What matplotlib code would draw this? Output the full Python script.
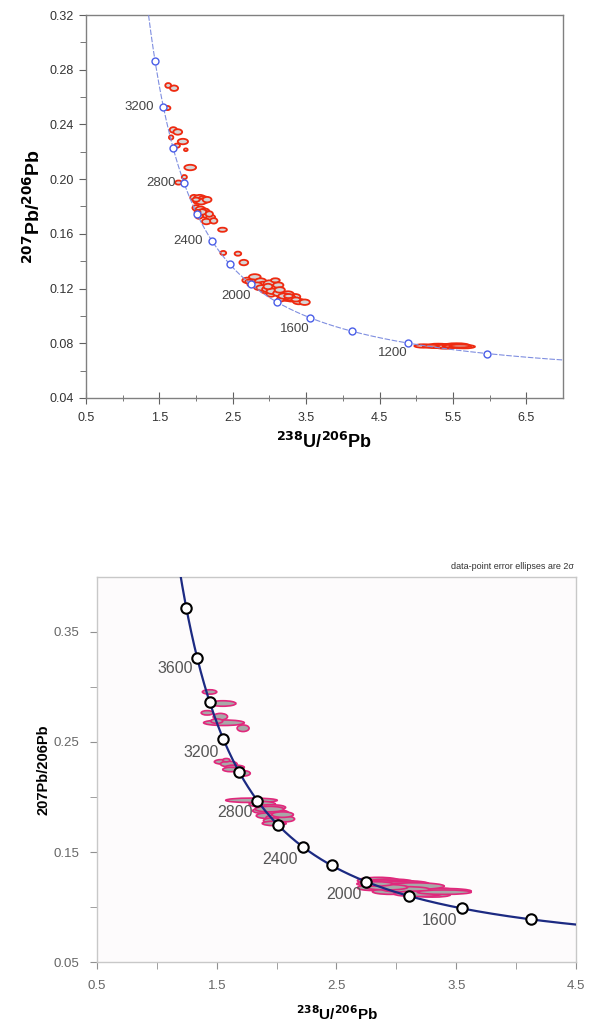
import numpy as np
import matplotlib
matplotlib.use("Agg")
import matplotlib.pyplot as plt
from matplotlib.patches import Ellipse
from matplotlib.ticker import MultipleLocator, FixedLocator

plt.rcParams['font.family'] = ['Liberation Sans', 'DejaVu Sans']

# ---- decay constants (Tera-Wasserburg concordia) ----
L238 = 1.55125e-10
L235 = 9.8485e-10
U_RATIO = 137.88

def tw(age_ma):
    a = np.asarray(age_ma, dtype=float) * 1e6
    e8 = np.exp(L238 * a) - 1
    e5 = np.exp(L235 * a) - 1
    return 1 / e8, e5 / e8 / U_RATIO

# ---- top panel data ----
top_marker_ages = [1000, 1200, 1400, 1600, 1800, 2000, 2200, 2400, 2600, 2800, 3000, 3200, 3400]
top_label_ages = ['3200', '2800', '2400', '2000', '1600', '1200']
top_label_x = [1.23, 1.52, 1.89, 2.54, 3.35, 4.68]
top_label_y = [0.2527, 0.1972, 0.1548, 0.1146, 0.0905, 0.0729]

top_ell_x = [1.62, 1.70, 1.61, 1.69, 1.75, 1.66, 1.82, 1.74, 1.86, 1.92, 1.84, 1.76,
             1.97, 2.05, 2.10, 2.02, 2.12, 2.07, 2.15, 2.00,
             2.00, 2.06, 2.12, 2.09, 2.15, 2.04, 2.20, 2.14, 2.24, 2.36, 2.08, 2.18, 2.02,
             2.37, 2.57, 2.65,
             2.70, 2.80, 2.78, 2.88, 2.92, 2.85, 3.00, 3.05, 2.95, 3.12, 3.10, 3.02,
             3.18, 3.25, 3.22, 3.30, 3.35, 3.40, 3.48, 3.15, 2.75, 3.08,
             2.83, 2.90, 2.97, 3.04, 3.12, 3.20, 3.28, 3.36, 2.72, 2.98, 3.14, 3.26,
             5.10, 5.30, 5.45, 5.55, 5.65, 5.40, 5.25, 5.35, 5.50, 5.20, 5.60]
top_ell_y = [0.2685, 0.2665, 0.2520, 0.2360, 0.2345, 0.2305, 0.2275, 0.2245, 0.2215, 0.2085, 0.2015, 0.1975,
             0.1865, 0.1860, 0.1855, 0.1840, 0.1845, 0.1835, 0.1850, 0.1850,
             0.1790, 0.1775, 0.1765, 0.1750, 0.1735, 0.1730, 0.1720, 0.1690, 0.1695, 0.1630, 0.1760, 0.1745, 0.1760,
             0.1460, 0.1455, 0.1390,
             0.1260, 0.1285, 0.1240, 0.1250, 0.1225, 0.1210, 0.1235, 0.1200, 0.1185, 0.1225, 0.1175, 0.1160,
             0.1150, 0.1160, 0.1130, 0.1125, 0.1140, 0.1105, 0.1100, 0.1120, 0.1230, 0.1260,
             0.1225, 0.1205, 0.1195, 0.1180, 0.1165, 0.1145, 0.1135, 0.1120, 0.1250, 0.1215, 0.1190, 0.1145,
             0.0780, 0.0782, 0.0780, 0.0785, 0.0775, 0.0770, 0.0775, 0.0778, 0.0779, 0.0779, 0.0780]
top_ell_w = [0.08, 0.11, 0.08, 0.10, 0.12, 0.06, 0.14, 0.08, 0.05, 0.16, 0.07, 0.09,
             0.10, 0.16, 0.14, 0.12, 0.10, 0.14, 0.12, 0.10,
             0.10, 0.14, 0.12, 0.16, 0.12, 0.10, 0.12, 0.12, 0.10, 0.12, 0.12, 0.10, 0.08,
             0.08, 0.09, 0.12,
             0.14, 0.16, 0.14, 0.16, 0.18, 0.12, 0.16, 0.18, 0.14, 0.14, 0.16, 0.12,
             0.16, 0.16, 0.14, 0.18, 0.14, 0.16, 0.14, 0.10, 0.10, 0.12,
             0.14, 0.16, 0.14, 0.16, 0.14, 0.16, 0.14, 0.12, 0.10, 0.12, 0.14, 0.12,
             0.25, 0.30, 0.30, 0.35, 0.30, 0.25, 0.20, 0.30, 0.28, 0.22, 0.30]
top_ell_h = [0.0035, 0.0040, 0.0030, 0.0040, 0.0040, 0.0030, 0.0040, 0.0030, 0.0020, 0.0040, 0.0030, 0.0030,
             0.0040, 0.0050, 0.0040, 0.0040, 0.0040, 0.0040, 0.0040, 0.0030,
             0.0040, 0.0050, 0.0040, 0.0050, 0.0040, 0.0040, 0.0040, 0.0040, 0.0040, 0.0030, 0.0040, 0.0040, 0.0030,
             0.0030, 0.0030, 0.0040,
             0.0040, 0.0040, 0.0050, 0.0050, 0.0050, 0.0040, 0.0050, 0.0050, 0.0040, 0.0040, 0.0050, 0.0040,
             0.0050, 0.0040, 0.0040, 0.0040, 0.0040, 0.0040, 0.0040, 0.0030, 0.0030, 0.0030,
             0.0040, 0.0040, 0.0040, 0.0040, 0.0040, 0.0040, 0.0040, 0.0030, 0.0030, 0.0040, 0.0040, 0.0030,
             0.0025, 0.0030, 0.0030, 0.0030, 0.0025, 0.0020, 0.0020, 0.0020, 0.0020, 0.0020, 0.0020]

# ---- bottom panel data ----
bot_marker_ages = [1400, 1600, 1800, 2000, 2200, 2400, 2600, 2800, 3000, 3200, 3400, 3600, 3800]
bot_label_ages = ['3600', '3200', '2800', '2400', '2000', '1600']
bot_label_x = [1.154, 1.367, 1.65, 2.025, 2.56, 3.36]
bot_label_y = [0.3164, 0.240, 0.1855, 0.1436, 0.111, 0.0882]

bot_ell_x = [1.34, 1.44, 1.55, 1.42, 1.53, 1.56, 1.72, 1.50,
             1.54, 1.60, 1.65, 1.72, 1.58, 1.62,
             1.79, 1.88, 1.95, 1.90, 2.00, 1.92, 2.02, 1.97, 2.08, 1.98, 1.94, 2.05,
             2.85, 2.95, 3.05, 2.90, 3.10, 3.00, 3.25, 3.20, 3.35, 2.80, 3.30, 2.95,
             2.88, 3.02, 3.15, 3.08, 2.92, 3.18, 3.40, 2.82]
bot_ell_y = [0.3235, 0.2955, 0.2850, 0.2765, 0.2730, 0.2675, 0.2625, 0.2690,
             0.2320, 0.2300, 0.2270, 0.2215, 0.2335, 0.2250,
             0.1970, 0.1935, 0.1905, 0.1875, 0.1855, 0.1830, 0.1810, 0.1785, 0.1800, 0.1760, 0.1890, 0.1840,
             0.1240, 0.1225, 0.1210, 0.1195, 0.1180, 0.1165, 0.1150, 0.1135, 0.1145, 0.1175, 0.1110, 0.1140,
             0.1215, 0.1200, 0.1190, 0.1160, 0.1180, 0.1120, 0.1135, 0.1210]
bot_ell_w = [0.06, 0.12, 0.22, 0.10, 0.12, 0.34, 0.10, 0.10,
             0.12, 0.14, 0.16, 0.12, 0.06, 0.14,
             0.43, 0.22, 0.25, 0.20, 0.20, 0.18, 0.22, 0.16, 0.14, 0.20, 0.24, 0.18,
             0.35, 0.40, 0.45, 0.30, 0.50, 0.40, 0.50, 0.40, 0.55, 0.25, 0.30, 0.30,
             0.40, 0.45, 0.50, 0.40, 0.35, 0.40, 0.45, 0.30]
bot_ell_h = [0.003, 0.004, 0.005, 0.004, 0.006, 0.005, 0.006, 0.004,
             0.004, 0.005, 0.004, 0.005, 0.003, 0.004,
             0.004, 0.005, 0.005, 0.005, 0.006, 0.005, 0.006, 0.005, 0.005, 0.004, 0.005, 0.005,
             0.006, 0.006, 0.006, 0.005, 0.006, 0.005, 0.005, 0.005, 0.005, 0.005, 0.004, 0.005,
             0.006, 0.006, 0.006, 0.005, 0.005, 0.005, 0.004, 0.004]

fig = plt.figure(figsize=(5.97, 10.23), dpi=100)

# ================= TOP PANEL =================
ax1 = fig.add_axes([0.1441, 0.611, 0.7989, 0.3743])
for cx, cy, w, h in zip(top_ell_x, top_ell_y, top_ell_w, top_ell_h):
    ax1.add_patch(Ellipse((cx, cy), w, h, facecolor='#d6d6d6', edgecolor='#ee2a10', lw=1.3, zorder=2))
curve_ages = np.arange(840, 3700, 5)
cx_, cy_ = tw(curve_ages)
ax1.plot(cx_, cy_, color='#7f8ee0', lw=0.8, ls=(0, (5, 1.5)), zorder=3)
mx, my = tw(top_marker_ages)
ax1.plot(mx, my, 'o', ms=5, mfc='white', mec='#4a5ee8', mew=1.0, ls='none', zorder=4)
for t, lx, ly in zip(top_label_ages, top_label_x, top_label_y):
    ax1.text(lx, ly, t, fontsize=9.5, color='#444444', ha='center', va='center', zorder=5)

ax1.set_xlim(0.5, 7.0)
ax1.set_ylim(0.04, 0.32)
ax1.xaxis.set_major_locator(FixedLocator([0.5, 1.5, 2.5, 3.5, 4.5, 5.5, 6.5]))
ax1.xaxis.set_minor_locator(FixedLocator([1, 2, 3, 4, 5, 6]))
ax1.yaxis.set_major_locator(MultipleLocator(0.04))
ax1.yaxis.set_minor_locator(FixedLocator(np.arange(0.06, 0.32, 0.04)))
ax1.set_yticklabels([f'{v:.2f}' for v in ax1.get_yticks()])
ax1.set_xticklabels(['0.5', '1.5', '2.5', '3.5', '4.5', '5.5', '6.5'])
for s in ax1.spines.values():
    s.set_color('#808080')
    s.set_linewidth(1.0)
ax1.tick_params(axis='x', which='major', direction='inout', length=8, color='#606060',
                labelsize=9, labelcolor='#333333', pad=6)
ax1.tick_params(axis='x', which='minor', direction='inout', length=5, color='#606060')
ax1.tick_params(axis='y', which='major', direction='out', length=5, color='#606060',
                labelsize=9, labelcolor='#333333', pad=4)
ax1.tick_params(axis='y', which='minor', direction='out', length=4, color='#606060')
ax1.set_xlabel(r'$^{\mathbf{238}}$U/$^{\mathbf{206}}$Pb', fontsize=13, fontweight='bold', labelpad=6)
ax1.set_ylabel(r'$^{\mathbf{207}}$Pb/$^{\mathbf{206}}$Pb', fontsize=14, fontweight='bold', labelpad=4)

# ================= BOTTOM PANEL =================
ax2 = fig.add_axes([0.1625, 0.0596, 0.8023, 0.3764])
ax2.set_facecolor('#fdfbfc')
for cx, cy, w, h in zip(bot_ell_x, bot_ell_y, bot_ell_w, bot_ell_h):
    ax2.add_patch(Ellipse((cx, cy), w, h, facecolor='#a8a8a8', edgecolor='#e0287c', lw=1.2, zorder=2))
curve_ages2 = np.arange(1280, 4000, 5)
bx_, by_ = tw(curve_ages2)
ax2.plot(bx_, by_, color='#1c2a82', lw=1.6, zorder=3)
bmx, bmy = tw(bot_marker_ages)
ax2.plot(bmx, bmy, 'o', ms=7.5, mfc='white', mec='black', mew=1.5, ls='none', zorder=4)
for t, lx, ly in zip(bot_label_ages, bot_label_x, bot_label_y):
    ax2.text(lx, ly, t, fontsize=11.5, color='#555555', ha='center', va='center', zorder=5)

ax2.set_xlim(0.5, 4.5)
ax2.set_ylim(0.05, 0.40)
ax2.xaxis.set_major_locator(FixedLocator([0.5, 1.5, 2.5, 3.5, 4.5]))
ax2.xaxis.set_minor_locator(FixedLocator([1, 2, 3, 4]))
ax2.yaxis.set_major_locator(FixedLocator([0.05, 0.15, 0.25, 0.35]))
ax2.yaxis.set_minor_locator(FixedLocator([0.10, 0.20, 0.30]))
ax2.set_xticklabels(['0.5', '1.5', '2.5', '3.5', '4.5'])
ax2.set_yticklabels(['0.05', '0.15', '0.25', '0.35'])
for s in ax2.spines.values():
    s.set_color('#c8c8c8')
    s.set_linewidth(1.0)
ax2.tick_params(axis='both', which='major', direction='out', length=5, color='#909090',
                labelsize=9.5, labelcolor='#666666', pad=8)
ax2.tick_params(axis='both', which='minor', direction='out', length=5, color='#909090')
ax2.set_xlabel(r'$^{\mathbf{238}}$U/$^{\mathbf{206}}$Pb', fontsize=11, fontweight='bold', labelpad=9)
ax2.set_ylabel('207Pb/206Pb', fontsize=10.5, fontweight='bold', labelpad=2)
fig.text(0.961, 0.4467, 'data-point error ellipses are 2\u03c3', fontsize=6.5, color='#333333',
         ha='right', va='center')

fig.savefig('out.png', dpi=100, facecolor='white')
